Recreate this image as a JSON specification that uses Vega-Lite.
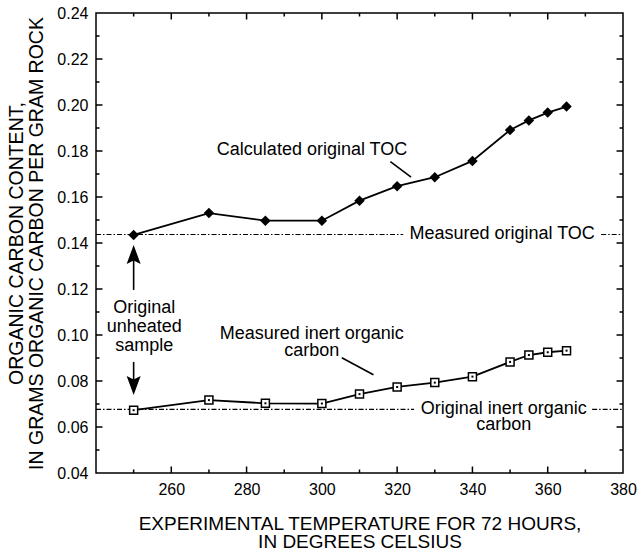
{
  "$schema": "https://vega.github.io/schema/vega-lite/v6.json",
  "autosize": "none",
  "width": 527,
  "height": 460,
  "padding": {"left": 96, "top": 13, "right": 18, "bottom": 82},
  "background": "white",
  "config": {
    "view": {"stroke": "black", "strokeWidth": 1.5},
    "font": "Liberation Sans",
    "axis": {"grid": false, "domain": false, "ticks": false, "labelColor": "black", "titleColor": "black", "labelFont": "Liberation Sans", "titleFont": "Liberation Sans", "titleFontWeight": "normal", "labelOverlap": false}
  },
  "datasets": {
    "series": [
      {"series": "toc", "temp": 250, "value": 0.1435},
      {"series": "toc", "temp": 270, "value": 0.153},
      {"series": "toc", "temp": 285, "value": 0.1497},
      {"series": "toc", "temp": 300, "value": 0.1497},
      {"series": "toc", "temp": 310, "value": 0.1584},
      {"series": "toc", "temp": 320, "value": 0.1647},
      {"series": "toc", "temp": 330, "value": 0.1686},
      {"series": "toc", "temp": 340, "value": 0.1757},
      {"series": "toc", "temp": 350, "value": 0.1891},
      {"series": "toc", "temp": 355, "value": 0.1933},
      {"series": "toc", "temp": 360, "value": 0.1967},
      {"series": "toc", "temp": 365, "value": 0.1993},
      {"series": "inert", "temp": 250, "value": 0.0673},
      {"series": "inert", "temp": 270, "value": 0.0717},
      {"series": "inert", "temp": 285, "value": 0.0703},
      {"series": "inert", "temp": 300, "value": 0.0702},
      {"series": "inert", "temp": 310, "value": 0.0743},
      {"series": "inert", "temp": 320, "value": 0.0774},
      {"series": "inert", "temp": 330, "value": 0.0793},
      {"series": "inert", "temp": 340, "value": 0.0819},
      {"series": "inert", "temp": 350, "value": 0.0883},
      {"series": "inert", "temp": 355, "value": 0.0913},
      {"series": "inert", "temp": 360, "value": 0.0925},
      {"series": "inert", "temp": 365, "value": 0.0932}
    ],
    "refs": [
      {"temp": 240, "temp2": 321.6, "value": 0.1437},
      {"temp": 374.2, "temp2": 380, "value": 0.1437},
      {"temp": 240, "temp2": 324.5, "value": 0.0677},
      {"temp": 371.8, "temp2": 380, "value": 0.0677}
    ],
    "segments": [
      {"temp": 318.2, "value": 0.1754, "temp2": 323.7, "value2": 0.1686},
      {"temp": 305.3, "value": 0.0901, "temp2": 313.7, "value2": 0.0827},
      {"temp": 250, "value": 0.1196, "temp2": 250, "value2": 0.1345},
      {"temp": 250, "value": 0.0883, "temp2": 250, "value2": 0.078}
    ],
    "heads": [
      {"temp": 250, "value": 0.1348, "dir": "up"},
      {"temp": 250, "value": 0.0783, "dir": "down"}
    ],
    "xticks": [
      {"temp": 250, "kind": "minor"}, {"temp": 260, "kind": "major"}, {"temp": 270, "kind": "minor"},
      {"temp": 280, "kind": "major"}, {"temp": 290, "kind": "minor"}, {"temp": 300, "kind": "major"},
      {"temp": 310, "kind": "minor"}, {"temp": 320, "kind": "major"}, {"temp": 330, "kind": "minor"},
      {"temp": 340, "kind": "major"}, {"temp": 350, "kind": "minor"}, {"temp": 360, "kind": "major"},
      {"temp": 370, "kind": "minor"}
    ],
    "yticks": [
      {"value": 0.05, "kind": "minor"}, {"value": 0.06, "kind": "major"}, {"value": 0.07, "kind": "minor"},
      {"value": 0.08, "kind": "major"}, {"value": 0.09, "kind": "minor"}, {"value": 0.1, "kind": "major"},
      {"value": 0.11, "kind": "minor"}, {"value": 0.12, "kind": "major"}, {"value": 0.13, "kind": "minor"},
      {"value": 0.14, "kind": "major"}, {"value": 0.15, "kind": "minor"}, {"value": 0.16, "kind": "major"},
      {"value": 0.17, "kind": "minor"}, {"value": 0.18, "kind": "major"}, {"value": 0.19, "kind": "minor"},
      {"value": 0.2, "kind": "major"}, {"value": 0.21, "kind": "minor"}, {"value": 0.22, "kind": "major"},
      {"value": 0.23, "kind": "minor"}
    ],
    "labels": [
      {"temp": 297.4, "value": 0.1804, "text": "Calculated original TOC"},
      {"temp": 347.9, "value": 0.1439, "text": "Measured original TOC"},
      {"temp": 297.3, "value": 0.1003, "text": "Measured inert organic"},
      {"temp": 297.3, "value": 0.0929, "text": "carbon"},
      {"temp": 348.3, "value": 0.0678, "text": "Original inert organic"},
      {"temp": 348.3, "value": 0.0609, "text": "carbon"},
      {"temp": 252.8, "value": 0.1117, "text": "Original"},
      {"temp": 252.8, "value": 0.1035, "text": "unheated"},
      {"temp": 252.8, "value": 0.0952, "text": "sample"}
    ]
  },
  "layer": [
    {
      "data": {"name": "refs"},
      "mark": {"type": "rule", "color": "black", "strokeWidth": 1.2, "strokeDash": [5, 2, 1.5, 2]},
      "encoding": {
        "x": {"field": "temp", "type": "quantitative", "scale": {"domain": [240, 380], "nice": false, "zero": false},
          "axis": {"orient": "bottom", "values": [260, 280, 300, 320, 340, 360, 380],
            "labelFontSize": 16, "labelPadding": 8, "labelFlush": false,
            "title": ["EXPERIMENTAL TEMPERATURE FOR 72 HOURS,", "IN DEGREES CELSIUS"],
            "titleFontSize": 19, "titleLineHeight": 18, "titlePadding": 17}},
        "x2": {"field": "temp2"},
        "y": {"field": "value", "type": "quantitative", "scale": {"domain": [0.04, 0.24], "nice": false, "zero": false},
          "axis": {"orient": "left", "values": [0.04, 0.06, 0.08, 0.1, 0.12, 0.14, 0.16, 0.18, 0.2, 0.22, 0.24], "format": ".2f",
            "labelFontSize": 16, "labelPadding": 8, "labelFlush": false,
            "title": ["ORGANIC CARBON CONTENT,", "IN GRAMS ORGANIC CARBON PER GRAM ROCK"],
            "titleFontSize": 19.5, "titleLineHeight": 20, "titlePadding": 10}}
      }
    },
    {
      "data": {"name": "xticks"},
      "mark": {"type": "tick", "orient": "vertical", "color": "black", "thickness": 1.5, "opacity": 1, "clip": true},
      "encoding": {
        "x": {"field": "temp", "type": "quantitative"},
        "y": {"datum": 0.04, "type": "quantitative"},
        "size": {"field": "kind", "type": "ordinal", "scale": {"domain": ["major", "minor"], "range": [13, 7]}, "legend": null}
      }
    },
    {
      "data": {"name": "xticks"},
      "mark": {"type": "tick", "orient": "vertical", "color": "black", "thickness": 1.5, "opacity": 1, "clip": true},
      "encoding": {
        "x": {"field": "temp", "type": "quantitative"},
        "y": {"datum": 0.24, "type": "quantitative"},
        "size": {"field": "kind", "type": "ordinal", "legend": null}
      }
    },
    {
      "data": {"name": "yticks"},
      "mark": {"type": "tick", "orient": "horizontal", "color": "black", "thickness": 1.5, "opacity": 1, "clip": true},
      "encoding": {
        "x": {"datum": 240, "type": "quantitative"},
        "y": {"field": "value", "type": "quantitative"},
        "size": {"field": "kind", "type": "ordinal", "legend": null}
      }
    },
    {
      "data": {"name": "yticks"},
      "mark": {"type": "tick", "orient": "horizontal", "color": "black", "thickness": 1.5, "opacity": 1, "clip": true},
      "encoding": {
        "x": {"datum": 380, "type": "quantitative"},
        "y": {"field": "value", "type": "quantitative"},
        "size": {"field": "kind", "type": "ordinal", "legend": null}
      }
    },
    {
      "data": {"name": "series"},
      "mark": {"type": "line", "color": "black", "strokeWidth": 1.8},
      "encoding": {
        "x": {"field": "temp", "type": "quantitative"},
        "y": {"field": "value", "type": "quantitative"},
        "detail": {"field": "series"}
      }
    },
    {
      "data": {"name": "series"},
      "transform": [{"filter": "datum.series === 'toc'"}],
      "mark": {"type": "point", "shape": "diamond", "filled": true, "color": "black", "size": 110, "opacity": 1},
      "encoding": {
        "x": {"field": "temp", "type": "quantitative"},
        "y": {"field": "value", "type": "quantitative"}
      }
    },
    {
      "data": {"name": "series"},
      "transform": [{"filter": "datum.series === 'inert'"}],
      "mark": {"type": "point", "shape": "square", "filled": false, "fill": "white", "stroke": "black", "strokeWidth": 1.5, "size": 64, "opacity": 1, "fillOpacity": 1},
      "encoding": {
        "x": {"field": "temp", "type": "quantitative"},
        "y": {"field": "value", "type": "quantitative"}
      }
    },
    {
      "data": {"name": "series"},
      "transform": [{"filter": "datum.series === 'inert'"}],
      "mark": {"type": "point", "shape": "square", "filled": true, "color": "black", "size": 4, "opacity": 1},
      "encoding": {
        "x": {"field": "temp", "type": "quantitative"},
        "y": {"field": "value", "type": "quantitative"}
      }
    },
    {
      "data": {"name": "segments"},
      "mark": {"type": "rule", "color": "black", "strokeWidth": 1.6},
      "encoding": {
        "x": {"field": "temp", "type": "quantitative"},
        "y": {"field": "value", "type": "quantitative"},
        "x2": {"field": "temp2"},
        "y2": {"field": "value2"}
      }
    },
    {
      "data": {"name": "heads"},
      "transform": [{"filter": "datum.dir === 'up'"}],
      "mark": {"type": "point", "shape": "M0,-1L0.7,0.9L0,0.55L-0.7,0.9Z", "filled": true, "color": "black", "size": 400, "opacity": 1},
      "encoding": {
        "x": {"field": "temp", "type": "quantitative"},
        "y": {"field": "value", "type": "quantitative"}
      }
    },
    {
      "data": {"name": "heads"},
      "transform": [{"filter": "datum.dir === 'down'"}],
      "mark": {"type": "point", "shape": "M0,1L0.7,-0.9L0,-0.55L-0.7,-0.9Z", "filled": true, "color": "black", "size": 400, "opacity": 1},
      "encoding": {
        "x": {"field": "temp", "type": "quantitative"},
        "y": {"field": "value", "type": "quantitative"}
      }
    },
    {
      "data": {"name": "labels"},
      "mark": {"type": "text", "font": "Liberation Sans", "fontSize": 18, "color": "black", "align": "center", "baseline": "middle"},
      "encoding": {
        "x": {"field": "temp", "type": "quantitative"},
        "y": {"field": "value", "type": "quantitative"},
        "text": {"field": "text"}
      }
    }
  ]
}
